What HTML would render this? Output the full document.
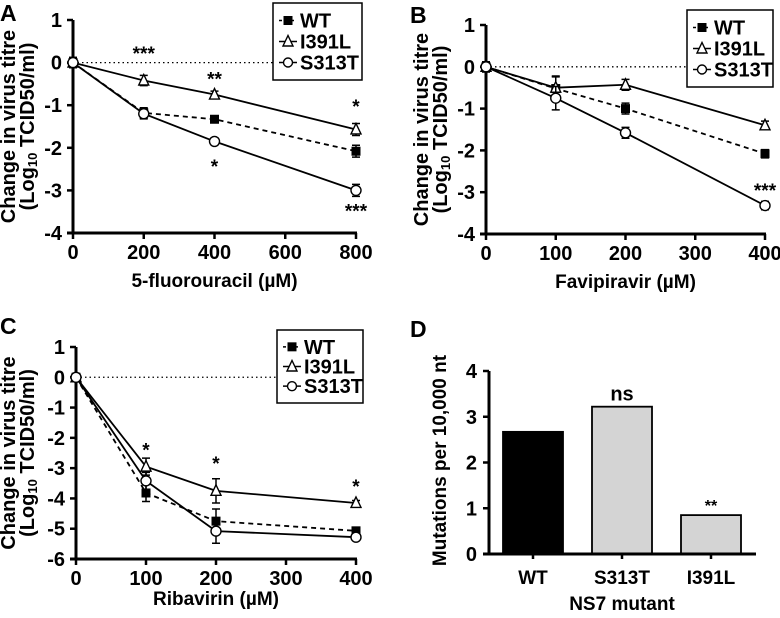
<!DOCTYPE html>
<html><head><meta charset="utf-8"><style>
body{margin:0;background:#fff}
svg text{font-family:"Liberation Sans",Arial,sans-serif;font-weight:bold;fill:#000}
</style></head><body>
<svg id="fig" width="780" height="613" xmlns="http://www.w3.org/2000/svg"></svg>
<script>
// Panel A data
const aX=[0,200,400,800];
const aWT=[0,-1.18,-1.33,-2.08];
const aI391L=[0,-0.42,-0.75,-1.57];
const aS313T=[0,-1.2,-1.85,-3.0];
const aErr=[0.12,0.12,0.08,0.14];
const aXTicks=[0,200,400,600,800];
const aYTicks=[1,0,-1,-2,-3,-4];
// Panel B data
const bX=[0,100,200,400];
const bWT=[0,-0.52,-1.0,-2.08];
const bI391L=[0,-0.5,-0.43,-1.4];
const bS313T=[0,-0.75,-1.58,-3.32];
const bErr=[0.12,0.28,0.13,0.1];
const bXTicks=[0,100,200,300,400];
const bYTicks=[1,0,-1,-2,-3,-4];
// Panel C data
const cX=[0,100,200,400];
const cWT=[0,-3.82,-4.75,-5.07];
const cI391L=[0,-2.95,-3.75,-4.15];
const cS313T=[0,-3.42,-5.08,-5.28];
const cErr=[0.12,0.28,0.4,0.08];
const cXTicks=[0,100,200,300,400];
const cYTicks=[1,0,-1,-2,-3,-4,-5,-6];
// Panel D data
const dCats=["WT","S313T","I391L"];
const dVals=[2.67,3.22,0.85];
const dYTicks=[0,1,2,3,4];

const NS="http://www.w3.org/2000/svg";
const svg=document.getElementById('fig');
function el(tag,attrs,parent,txt){const e=document.createElementNS(NS,tag);for(const k in attrs)e.setAttribute(k,attrs[k]);if(txt!==undefined)e.textContent=txt;(parent||svg).appendChild(e);return e;}

function marker(kind,cx,cy,parent,s){
  if(kind==='sq')return el('rect',{x:cx-s,y:cy-s,width:2*s,height:2*s,fill:'#000'},parent);
  if(kind==='tri')return el('polygon',{points:`${cx},${cy-s-1.5} ${cx-s-0.5},${cy+s} ${cx+s+0.5},${cy+s}`,fill:'#fff',stroke:'#000','stroke-width':1.4},parent);
  return el('circle',{cx:cx,cy:cy,r:s,fill:'#fff',stroke:'#000','stroke-width':1.4},parent);
}

function linePanel(o){
  const g=el('g',{});
  
  
  const xs=v=>o.x0+(v-o.xmin)/(o.xmax-o.xmin)*(o.x1-o.x0);
  const ys=v=>o.y0+(o.ymax-v)/(o.ymax-o.ymin)*(o.y1-o.y0);
  const t=el('text',{x:o.lx,y:o.ly,'font-size':23},g,o.letter);
  
  const z=el('line',{x1:xs(o.xmin),x2:o.x1,y1:ys(0),y2:ys(0),stroke:'#000','stroke-width':1.3,'stroke-dasharray':'1.5,3'},g);
  
  const ya=el('line',{x1:o.x0,x2:o.x0,y1:o.y0,y2:o.y1+1.5,stroke:'#000','stroke-width':3},g);
  
  const xa=el('line',{x1:o.x0-6,x2:o.x1+1,y1:o.y1,y2:o.y1,stroke:'#000','stroke-width':3},g);
  
  o.yTicks.forEach(v=>{
    el('line',{x1:o.x0-6,x2:o.x0,y1:ys(v),y2:ys(v),stroke:'#000','stroke-width':2.5},g);
    const tl=el('text',{x:o.x0-11,y:ys(v)+7,'font-size':20,'text-anchor':'end'},g,v);
    
  });
  o.xTicks.forEach(v=>{
    el('line',{x1:xs(v),x2:xs(v),y1:o.y1,y2:o.y1+6,stroke:'#000','stroke-width':2.5},g);
    const tl=el('text',{x:xs(v),y:o.y1+26,'font-size':20,'text-anchor':'middle'},g,v);
    
  });
  const xt=el('text',{x:(o.x0+o.x1)/2,y:o.y1+o.xtOff,'font-size':19,'text-anchor':'middle'},g,o.xtitle);
  
  const cy=(o.y0+o.y1)/2;
  const yt=el('text',{x:0,y:0,'font-size':20,'text-anchor':'middle',transform:`translate(${o.tx},${cy}) rotate(-90)`},g,'Change in virus titre');
  
  const yt2=el('text',{x:0,y:0,'font-size':20,'text-anchor':'middle',transform:`translate(${o.tx+19},${cy}) rotate(-90)`},g);
  
  el('tspan',{},yt2,'(Log');el('tspan',{'font-size':13,dy:3},yt2,'10');el('tspan',{dy:-3},yt2,' TCID50/ml)');
  const series=[
    {n:'wt',d:o.wt,dash:'5,4',m:'sq'},
    {n:'i391l',d:o.i391l,dash:'',m:'tri'},
    {n:'s313t',d:o.s313t,dash:'',m:'circ'}];
  series.forEach(s=>{
    const sg=el('g',{},g);
    
    const pts=o.xv.map((x,i)=>xs(x)+','+ys(s.d[i])).join(' ');
    const pl=el('polyline',{points:pts,fill:'none',stroke:'#000','stroke-width':1.8,'stroke-dasharray':s.dash},sg);
    
    o.xv.forEach((x,i)=>{
      const px=xs(x),py=ys(s.d[i]);
      const ep=Math.abs(ys(o.err[i])-ys(0));
      el('path',{d:`M${px},${py-ep}V${py+ep}M${px-4},${py-ep}H${px+4}M${px-4},${py+ep}H${px+4}`,stroke:'#000','stroke-width':1.5,fill:'none'},sg);
      const m=marker(s.m,px,py,sg,s.m==='circ'?5:4.5);
      
    });
  });
  o.stars.forEach(s=>{
    const st=el('text',{x:xs(s[0]),y:ys(s[1])+8,'font-size':19,'text-anchor':'middle'},g,s[2]);
    
  });
  const lg=el('g',{},g);
  
  el('rect',{x:o.lg[0],y:o.lg[1],width:o.lg[2],height:o.lg[3],fill:'#fff',stroke:'#000','stroke-width':1.5},lg);
  const names=['WT','I391L','S313T'];
  const step=(o.lg[3]-14)/3;
  names.forEach((n,i)=>{
    const ly=o.lg[1]+7+step*(i+0.5),lx=o.lg[0]+6;
    const le=el('g',{},lg);
    
    el('line',{x1:lx,x2:lx+18,y1:ly,y2:ly,stroke:'#000','stroke-width':1.5,'stroke-dasharray':i===0?'3,3':''},le);
    marker(i===0?'sq':i===1?'tri':'circ',lx+9,ly,le,4.5);
    el('text',{x:lx+21,y:ly+7,'font-size':20},le,n);
  });
}

linePanel({name:'panel-a-5fu',letter:'A',lx:0,ly:21,x0:73,x1:356,y0:20,y1:233,xmin:0,xmax:800,ymin:-4,ymax:1,
  xv:aX,wt:aWT,i391l:aI391L,s313t:aS313T,err:aErr,xTicks:aXTicks,yTicks:aYTicks,xtitle:'5-fluorouracil (µM)',tx:15,xtOff:54,
  stars:[[200,0.25,'***'],[400,-0.35,'**'],[800,-1.0,'*'],[400,-2.4,'*'],[800,-3.45,'***']],lg:[273,3,89,77]});
linePanel({name:'panel-b-favipiravir',letter:'B',lx:410,ly:23,x0:486,x1:765,y0:25,y1:234,xmin:0,xmax:400,ymin:-4,ymax:1,
  xv:bX,wt:bWT,i391l:bI391L,s313t:bS313T,err:bErr,xTicks:bXTicks,yTicks:bYTicks,xtitle:'Favipiravir (µM)',tx:428,xtOff:54,
  stars:[[400,-2.92,'***']],lg:[687,10,86,77]});
linePanel({name:'panel-c-ribavirin',letter:'C',lx:0,ly:334,x0:76,x1:356,y0:347,y1:559,xmin:0,xmax:400,ymin:-6,ymax:1,
  xv:cX,wt:cWT,i391l:cI391L,s313t:cS313T,err:cErr,xTicks:cXTicks,yTicks:cYTicks,xtitle:'Ribavirin (µM)',tx:15,xtOff:46,
  stars:[[100,-2.35,'*'],[200,-2.8,'*'],[400,-3.55,'*']],lg:[277,330,86,73]});

(function(){
  const g=el('g',{});
  
  const x0=489,x1=756,y0=371,y1=554,ymax=4;
  const ys=v=>y1-v/ymax*(y1-y0);
  const bw=60,centers=i=>533+i*89;
  const t=el('text',{x:410,y:337,'font-size':23},g,'D');
  
  dCats.forEach((c,i)=>{
    const v=dVals[i];
    const b=el('rect',{x:centers(i)-bw/2,y:ys(v),width:bw,height:y1-ys(v),fill:i===0?'#000':'#d4d4d4',stroke:'#000','stroke-width':1.8},g);
    
    const tl=el('text',{x:centers(i),y:y1+30,'font-size':19,'text-anchor':'middle'},g,c);
    
    el('line',{x1:centers(i),x2:centers(i),y1:y1,y2:y1+5,stroke:'#000','stroke-width':2.5},g);
  });
  const ns=el('text',{x:centers(1),y:ys(dVals[1])-6,'font-size':20,'text-anchor':'middle'},g,'ns');
  
  const st=el('text',{x:centers(2),y:ys(dVals[2])-4,'font-size':16,'text-anchor':'middle'},g,'**');
  
  const ya=el('line',{x1:x0,x2:x0,y1:y0,y2:y1,stroke:'#000','stroke-width':3},g);
  
  const xa=el('line',{x1:x0-6,x2:x1,y1:y1,y2:y1,stroke:'#000','stroke-width':3},g);
  
  dYTicks.forEach(v=>{
    el('line',{x1:x0-6,x2:x0,y1:ys(v),y2:ys(v),stroke:'#000','stroke-width':2.5},g);
    const tl=el('text',{x:x0-12,y:ys(v)+7,'font-size':20,'text-anchor':'end'},g,v);
    
  });
  const xt=el('text',{x:622,y:610,'font-size':19,'text-anchor':'middle'},g,'NS7 mutant');
  
  const yt=el('text',{x:0,y:0,'font-size':19,'text-anchor':'middle',transform:`translate(446,${(y0+y1)/2-2}) rotate(-90)`},g,'Mutations per 10,000 nt');
  
})();
</script>
</body></html>
